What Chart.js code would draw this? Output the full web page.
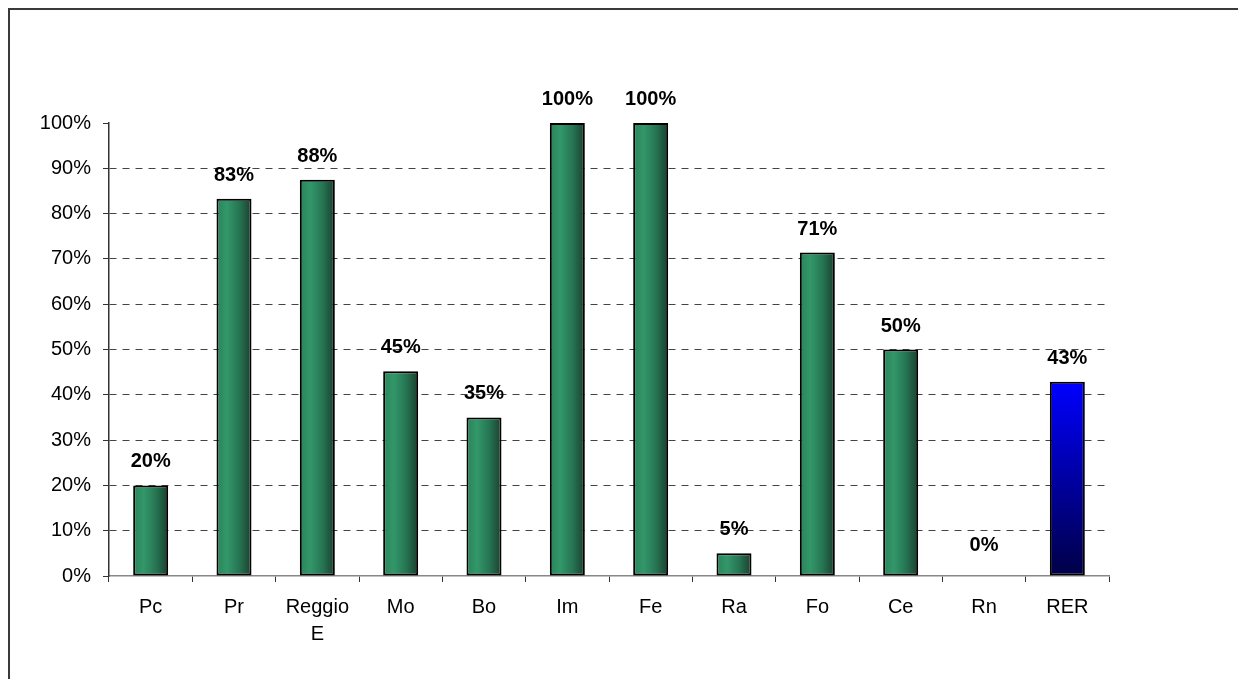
<!DOCTYPE html>
<html>
<head>
<meta charset="utf-8">
<script src="https://cdn.jsdelivr.net/npm/chart.js@4/dist/chart.umd.min.js"></script>
<style>
  html, body { margin: 0; padding: 0; background: #fff; }
  #wrap { width: 1238px; height: 679px; position: relative; }
</style>
</head>
<body>
<div id="wrap"><canvas id="barChart" width="1238" height="679"></canvas></div>
<script>
const categories = ['Pc', 'Pr', ['Reggio', 'E'], 'Mo', 'Bo', 'Im', 'Fe', 'Ra', 'Fo', 'Ce', 'Rn', 'RER'];
const percentValues = [20, 83.3, 87.5, 45.2, 35, 100, 100, 5, 71.4, 50, 0, 42.9];
const yTicks = [0, 10, 20, 30, 40, 50, 60, 70, 80, 90, 100];

const FONT = 'Arial, "Liberation Sans", sans-serif';
const BAR_PCT = 0.42;

// green bars: light on the left, dark on the right; RER bar: blue fading down to navy
function barFill(context) {
  const chart = context.chart;
  if (!chart.chartArea) return '#2e8b5f';
  const i = context.dataIndex;
  const xs = chart.scales.x, ys = chart.scales.y;
  const cx = xs.getPixelForValue(i);
  const half = (xs.width / categories.length) * BAR_PCT / 2;
  const c = chart.ctx;
  if (i === categories.length - 1) {
    const g = c.createLinearGradient(0, ys.getPixelForValue(percentValues[i]), 0, ys.getPixelForValue(0));
    g.addColorStop(0, '#0000ff');
    g.addColorStop(1, '#000046');
    return g;
  }
  const g = c.createLinearGradient(cx - half, 0, cx + half, 0);
  g.addColorStop(0, '#2a8459');
  g.addColorStop(0.3, '#32976a');
  g.addColorStop(0.65, '#267553');
  g.addColorStop(1, '#1a3f2e');
  return g;
}

const valueLabels = {
  id: 'valueLabels',
  afterDatasetsDraw(chart) {
    const ctx = chart.ctx;
    const meta = chart.getDatasetMeta(0);
    ctx.save();
    ctx.font = 'bold 20px ' + FONT;
    ctx.fillStyle = '#000';
    ctx.textAlign = 'center';
    ctx.textBaseline = 'alphabetic';
    meta.data.forEach((bar, i) => {
      const gap = percentValues[i] === 0 ? 25 : 18;
      ctx.fillText(Math.round(percentValues[i]) + '%', bar.x, bar.y - gap);
    });
    ctx.restore();
  }
};

const frame = {
  id: 'frame',
  beforeDraw(chart) {
    const ctx = chart.ctx;
    ctx.save();
    ctx.fillStyle = '#fff';
    ctx.fillRect(0, 0, chart.width, chart.height);
    ctx.strokeStyle = '#3a3a3a';
    ctx.lineWidth = 2;
    ctx.beginPath();
    ctx.moveTo(9, chart.height);
    ctx.lineTo(9, 9);
    ctx.lineTo(chart.width, 9);
    ctx.stroke();
    ctx.restore();
  }
};

const ctx = document.getElementById('barChart').getContext('2d');

new Chart(ctx, {
  type: 'bar',
  data: {
    labels: categories,
    datasets: [{
      data: percentValues,
      backgroundColor: barFill,
      borderColor: '#000',
      borderWidth: 2,
      borderSkipped: false,
      barPercentage: BAR_PCT,
      categoryPercentage: 1
    }]
  },
  options: {
    responsive: false,
    animation: false,
    layout: { padding: { left: 0, top: 123, right: 129, bottom: 0 } },
    plugins: {
      legend: { display: false },
      tooltip: { enabled: false },
      title: { display: false }
    },
    scales: {
      x: {
        afterFit(scale) { scale.height = 103; },
        grid: {
          offset: true,
          drawOnChartArea: false,
          drawTicks: true,
          tickLength: 6,
          tickColor: '#333',
          tickWidth: 1
        },
        border: { color: '#888', width: 1.5 },
        ticks: {
          color: '#000',
          font: { family: FONT, size: 20, lineHeight: 1.35 },
          padding: 12,
          maxRotation: 0,
          autoSkip: false
        }
      },
      y: {
        min: 0,
        max: 100,
        afterFit(scale) { scale.width = 109; },
        afterBuildTicks(scale) { scale.ticks = yTicks.map(v => ({ value: v })); },
        grid: {
          color: c => (c.tick && (c.tick.value === 0 || c.tick.value === 100)) ? 'rgba(0,0,0,0)' : '#444',
          lineWidth: 1,
          tickLength: 6,
          tickColor: '#333',
          tickBorderDash: []
        },
        border: { color: '#333', width: 1.5, dash: [7, 6] },
        ticks: {
          color: '#000',
          font: { family: FONT, size: 20 },
          padding: 12,
          callback: v => v + '%'
        }
      }
    }
  },
  plugins: [frame, valueLabels]
});
</script>
</body>
</html>
